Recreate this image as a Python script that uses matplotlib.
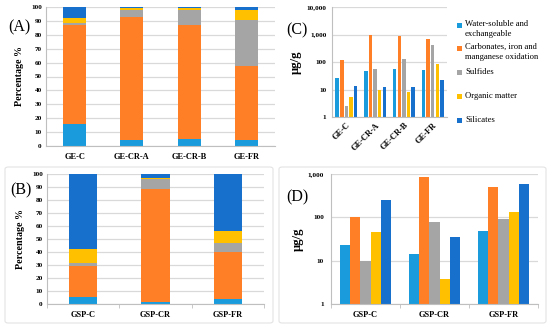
import numpy as np
import matplotlib
matplotlib.use('Agg')
import matplotlib.pyplot as plt
from matplotlib.patches import FancyBboxPatch, Rectangle
from matplotlib.ticker import FixedLocator, NullLocator

# ─────────── data ───────────
FRACTIONS = ['Water-soluble and\nexchangeable',
             'Carbonates, iron and\nmanganese oxidation',
             'Sulfides', 'Organic matter', 'Silicates']
COLORS = ['#1A9BDC', '#FF7F27', '#A5A5A5', '#FFC000', '#1670CC']

GE_SITES = ['GE-C', 'GE-CR-A', 'GE-CR-B', 'GE-FR']
GSP_SITES = ['GSP-C', 'GSP-CR', 'GSP-FR']

# (A) percentage per fraction over GE sites
ge_water = [16, 4, 5, 4]
ge_carb = [71, 89, 82, 53.5]
ge_sulf = [1.5, 5, 11, 33.5]
ge_org = [3.5, 1, 1, 7]
ge_sil = [8, 1, 1, 2]

# (B) percentage per fraction over GSP sites
gsp_water = [5.5, 1.5, 4]
gsp_carb = [23.5, 87, 36]
gsp_sulf = [2.5, 7.5, 7]
gsp_org = [11, 1, 9]
gsp_sil = [57.5, 3, 44]

# (C) concentrations µg/g, GE sites
ge_conc_water = [27, 48, 55, 50]
ge_conc_carb = [120, 1000, 900, 680]
ge_conc_sulf = [2.6, 56, 125, 430]
ge_conc_org = [5.3, 9.5, 8, 88]
ge_conc_sil = [13.5, 12.5, 12, 22]

# (D) concentrations µg/g, GSP sites
gsp_conc_water = [23, 14, 48]
gsp_conc_carb = [100, 870, 500]
gsp_conc_sulf = [10, 80, 90]
gsp_conc_org = [46, 3.7, 130]
gsp_conc_sil = [250, 35, 600]

W, H = 550, 329
SERIF = ['Liberation Serif', 'DejaVu Serif']
GRID = '#D9D9D9'
SPINE = '#BFBFBF'

fig = plt.figure(figsize=(W / 100, H / 100), dpi=100)


def px_axes(x0, y0, x1, y1):
    # pixel box (top-left origin) -> figure axes
    return fig.add_axes([x0 / W, 1 - y1 / H, (x1 - x0) / W, (y1 - y0) / H])


def style(ax):
    for s in ['top', 'right']:
        ax.spines[s].set_visible(False)
    for s in ['left', 'bottom']:
        ax.spines[s].set_color(SPINE)
        ax.spines[s].set_linewidth(0.8)
    ax.yaxis.grid(True, color=GRID, linewidth=0.9)
    ax.set_axisbelow(True)
    ax.tick_params(axis='y', length=0, pad=3, labelsize=5.2)
    ax.tick_params(axis='x', length=0, pad=5, labelsize=6)
    for lab in ax.get_yticklabels():
        lab.set_fontweight('bold')
        lab.set_family(SERIF)


def stacked(ax, sites, series, width):
    x = np.arange(len(sites))
    bottom = np.zeros(len(sites))
    for vals, c in zip(series, COLORS):
        ax.bar(x, vals, width, bottom=bottom, color=c, linewidth=0)
        bottom += np.array(vals)
    ax.set_xlim(-0.5, len(sites) - 0.5)
    ax.set_ylim(0, 100)
    ax.set_yticks(range(0, 101, 10))
    ax.set_xticks(x)
    ax.set_xticklabels(sites, family=SERIF, fontweight='bold')
    style(ax)
    ax.set_ylabel('Percentage %', family=SERIF, fontweight='bold', fontsize=7.2, labelpad=5)


def grouped(ax, sites, series, width, pitch, top):
    x = np.arange(len(sites))
    bars = []
    for i, (vals, c) in enumerate(zip(series, COLORS)):
        b = ax.bar(x + (i - 2) * pitch, vals, width, color=c, linewidth=0)
        bars.append(b)
    ax.set_yscale('log')
    ax.set_ylim(1, top)
    ax.set_xlim(-0.5, len(sites) - 0.5)
    ticks = [10 ** k for k in range(int(np.log10(top)) + 1)]
    ax.yaxis.set_major_locator(FixedLocator(ticks))
    ax.yaxis.set_minor_locator(NullLocator())
    ax.set_yticklabels([f'{t:,}' for t in ticks])
    ax.set_xticks(x)
    ax.set_xticklabels(sites, family=SERIF, fontweight='bold')
    style(ax)
    ax.set_ylabel('µg/g', family=SERIF, fontweight='bold', fontsize=9, labelpad=3)
    return bars


# panel boxes for bottom row
for bx in [(5, 167, 273, 323), (279, 167, 546, 323)]:
    fig.patches.append(FancyBboxPatch((bx[0] / W, 1 - bx[3] / H),
                                      (bx[2] - bx[0]) / W, (bx[3] - bx[1]) / H,
                                      boxstyle='round,pad=0,rounding_size=0.006',
                                      transform=fig.transFigure, fill=False,
                                      edgecolor='#E3E3E3', linewidth=0.8))

# (A)
axA = px_axes(46, 7, 275, 146)
stacked(axA, GE_SITES, [ge_water, ge_carb, ge_sulf, ge_org, ge_sil], 0.40)

# (B)
axB = px_axes(47, 174, 264, 304)
stacked(axB, GSP_SITES, [gsp_water, gsp_carb, gsp_sulf, gsp_org, gsp_sil], 0.39)
axB.set_xticks([-0.5, 0.5, 1.5, 2.5], minor=True)
axB.tick_params(axis='x', which='minor', length=3, color=SPINE)

# (C)
axC = px_axes(332, 7, 447, 117)
bars = grouped(axC, GE_SITES,
               [ge_conc_water, ge_conc_carb, ge_conc_sulf, ge_conc_org, ge_conc_sil],
               0.12, 0.16, 10000)
for lab in axC.get_xticklabels():
    lab.set_rotation(45)
    lab.set_ha('right')
    lab.set_rotation_mode('anchor')
    lab.set_fontsize(6)
axC.tick_params(axis='x', pad=3)
axC.tick_params(axis='y', pad=4)

# (D)
axD = px_axes(331, 174, 538, 304)
grouped(axD, GSP_SITES,
        [gsp_conc_water, gsp_conc_carb, gsp_conc_sulf, gsp_conc_org, gsp_conc_sil],
        0.145, 0.152, 1000)
axD.set_xticks([-0.5, 0.5, 1.5, 2.5], minor=True)
axD.tick_params(axis='x', which='minor', length=3, color=SPINE)
axD.tick_params(axis='y', pad=5)

# legend for (C), drawn by hand to follow the reference spacing
legend_y = [25, 48, 72.5, 96.5, 120.5]
for label, c, y in zip(FRACTIONS, COLORS, legend_y):
    fig.patches.append(Rectangle((456.5 / W, 1 - (y + 2.5) / H), 5 / W, 5 / H,
                                 transform=fig.transFigure, color=c, linewidth=0))
    fig.text(465 / W, 1 - (y - 5) / H, label, family=SERIF, fontsize=6.2,
             va='top', ha='left', linespacing=1.35)

# panel letters
for txt, x, y in [('(A)', 8, 27), ('(B)', 10, 190), ('(C)', 286, 30), ('(D)', 286, 197)]:
    fig.text(x / W, 1 - y / H, txt, family=SERIF, fontsize=11.5, va='center', ha='left')

fig.savefig('out.png', dpi=100)
